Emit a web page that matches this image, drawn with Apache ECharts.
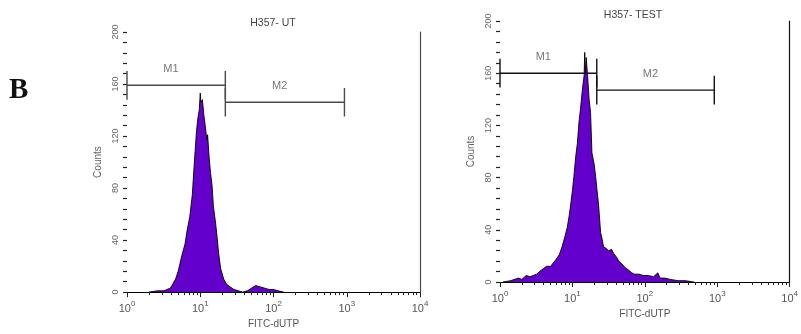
<!DOCTYPE html>
<html>
<head>
<meta charset="utf-8">
<script src="https://cdn.jsdelivr.net/npm/echarts@6/dist/echarts.min.js"></script>
<style>html,body{margin:0;padding:0;background:#fff}#c{width:801px;height:334px}</style>
</head>
<body>
<div id="c"></div>
<script>
// ---- data ----
var panelTitles = ['H357- UT', 'H357- TEST'];
var xTickValues = [1, 10, 100, 1000, 10000];
var yTickValues = [0, 40, 80, 120, 160, 200];
var xAxisTitle = 'FITC-dUTP';
var yAxisTitle = 'Counts';

// FITC-dUTP intensity (log channel) and counts — H357-UT
var utIntensity = [2.0, 2.6, 3.2, 3.5, 3.9, 4.2, 4.6, 5.0, 5.6, 6.2, 6.6, 7.2, 7.8, 8.1, 8.5, 8.9, 9.3, 9.7, 10.0, 10.2, 10.7, 11.2, 11.7, 12.3, 12.6, 13.2, 13.8, 14.5, 15.1, 16.2, 17.0, 17.8, 19.0, 20.9, 22.9, 25.7, 28.8, 33, 38, 44, 50, 57, 66, 76, 87, 100, 115, 138];
var utCounts    = [0,   1,   1,   2,   3,   6,   10,  16,  28,  37,  47,  58,  75,  90,  108, 124, 134, 140, 153,  146,  148,  136,  128,  117,  121,  104,  92,   82,   66,   53,   42,   30,   18,   10,   6,    4,    2,    1,  0,  1,  3,  5,  4,  3,  2,  2,   1,   0];

// H357-TEST
var testIntensity = [1.1, 1.4, 1.8, 2.0, 2.3, 2.6, 3.2, 3.7, 4.4, 5.0, 5.9, 6.6, 7.2, 7.9, 8.5, 9.1, 9.5, 10.0, 10.5, 11.1, 11.7, 12.3, 12.9, 13.7, 14.5, 14.8, 15.1, 15.5, 16.2, 17.0, 17.8, 18.6, 20.0, 20.9, 21.9, 22.9, 24.5, 25.7, 26.9, 28.8, 31.6, 34.7, 37, 40.7, 43.7, 47.9, 53.7, 60, 66, 72, 83, 95, 112, 132, 151, 162, 186, 224, 288, 363, 479];
var testCounts    = [0,   1,   3,   2,   5,   4,   6,   9,   12,  12,  17,  21,  27,  35,  42,  52,  60,  70,   81,   96,   106,  122,  132,  147,  158,  176,  160,  172,  158,  140,  130,  99,   90,   81,   70,   60,   38,   33,   27,   26,   24,   25,   22, 19,   16,   14,   11,   9,  7,  6,  6,  5,  5,   4,   7,   3,   3,   2,   1,   1,   0];

// Region markers: [start, end, level]
var utMarkers   = { M1: [1, 22, 159], M2: [22, 930, 146] };
var testMarkers = { M1: [1, 21.7, 160], M2: [21.7, 910, 147] };

// ---- chart ----
var chart = echarts.init(document.getElementById('c'), null, { renderer: 'canvas' });
var FONT = 'Liberation Sans, Arial, sans-serif';
var minorLog = [];
for (var n = 0; n < 4; n++) for (var k = 2; k <= 9; k++) minorLog.push(n + Math.log10(k));

var grids = [
  { left: 127, top: 32, width: 293, height: 261 },
  { left: 500, top: 21, width: 293, height: 261 }
];
var lineColors = ['#4a4a4a', '#111'];

var xAxes = [], yAxes = [], series = [];
[0, 1].forEach(function (g) {
  xAxes.push({
    gridIndex: g, type: 'log', logBase: 10, min: 1, max: 10000,
    axisLine: { lineStyle: { color: '#000', width: 1.2 } },
    axisTick: { length: 5, lineStyle: { color: '#222' } },
    splitLine: { show: false },
    axisLabel: {
      margin: 8, color: '#555', fontFamily: FONT,
      formatter: function (v) {
        return '{b|10}{s|' + Math.round(Math.log10(v)) + '}';
      },
      rich: {
        b: { fontSize: 11, fontFamily: FONT, color: '#555', verticalAlign: 'bottom', lineHeight: 14 },
        s: { fontSize: 8, fontFamily: FONT, color: '#555', verticalAlign: 'top', lineHeight: 14, padding: [0, 0, 6, 0] }
      }
    },
    name: xAxisTitle, nameLocation: 'middle', nameGap: 25,
    nameTextStyle: { fontSize: 10, color: '#555', fontFamily: FONT }
  });
  xAxes.push({
    gridIndex: g, type: 'value', min: 0, max: 4, position: 'bottom',
    axisLine: { show: false }, splitLine: { show: false },
    axisLabel: { show: false },
    axisTick: { show: true, length: 3, customValues: minorLog, lineStyle: { color: '#222' } }
  });
  yAxes.push({
    gridIndex: g, type: 'value', min: 0, max: 200, interval: 40,
    axisLine: { show: false }, splitLine: { show: false },
    axisTick: { show: true, length: 4, lineStyle: { color: '#222', width: 1.2 } },
    minorTick: { show: true, splitNumber: 5, length: 4, lineStyle: { color: '#222', width: 1.2 } },
    axisLabel: { rotate: 90, margin: 7, fontSize: 9, color: '#666', fontFamily: FONT },
    name: yAxisTitle, nameLocation: 'middle', nameGap: 24, nameRotate: 90,
    nameTextStyle: { fontSize: 10, color: '#666', fontFamily: FONT }
  });
  yAxes.push({
    gridIndex: g, type: 'value', min: 0, max: 200, position: 'right',
    axisLine: { show: true, lineStyle: { color: lineColors[g], width: 1.2 } },
    axisTick: { show: false }, axisLabel: { show: false }, splitLine: { show: false }
  });
});

function histSeries(g, xs, ys) {
  var data = xs.map(function (x, i) { return [x, ys[i]]; });
  return {
    type: 'line', xAxisIndex: g * 2, yAxisIndex: g * 2, data: data,
    showSymbol: false, symbol: 'none', smooth: false,
    lineStyle: { color: '#000', width: 0.9 },
    areaStyle: { color: '#6400cc', opacity: 1 },
    z: 3, animation: false
  };
}
series.push(histSeries(0, utIntensity, utCounts));
series.push(histSeries(1, testIntensity, testCounts));

function seg(g, a, b, color) {
  return {
    type: 'line', xAxisIndex: g * 2, yAxisIndex: g * 2, data: [a, b],
    showSymbol: false, symbol: 'none', lineStyle: { color: color, width: 1.4 },
    z: 4, animation: false, silent: true
  };
}
function markerSeries(g, markers) {
  var c = lineColors[g];
  var d = 11;
  Object.keys(markers).forEach(function (name) {
    var m = markers[name];
    series.push(seg(g, [m[0], m[2]], [m[1], m[2]], c));
    series.push(seg(g, [m[0], m[2] - d], [m[0], m[2] + d], c));
    series.push(seg(g, [m[1], m[2] - d], [m[1], m[2] + d], c));
    series.push({
      type: 'scatter', xAxisIndex: g * 2, yAxisIndex: g * 2,
      data: [[Math.sqrt(m[0] * m[1]) * 0.85, m[2]]], symbolSize: 1,
      itemStyle: { color: 'rgba(0,0,0,0)' },
      label: { show: true, position: 'top', distance: 10, formatter: name,
               fontSize: 11, color: '#555', fontFamily: FONT },
      z: 5, animation: false, silent: true
    });
  });
}
markerSeries(0, utMarkers);
markerSeries(1, testMarkers);

chart.setOption({
  animation: false,
  backgroundColor: '#fff',
  grid: grids,
  xAxis: xAxes,
  yAxis: yAxes,
  series: series,
  graphic: [
    { type: 'text', x: 273, y: 23, style: { text: panelTitles[0], fontSize: 10.5, fill: '#444', fontFamily: FONT, textAlign: 'center', textVerticalAlign: 'middle' } },
    { type: 'text', x: 633, y: 15, style: { text: panelTitles[1], fontSize: 10.5, fill: '#444', fontFamily: FONT, textAlign: 'center', textVerticalAlign: 'middle' } },
    { type: 'text', x: 9, y: 91, style: { text: 'B', fontSize: 29, fontWeight: 'bold', fill: '#111', fontFamily: 'Liberation Serif, Times New Roman, serif', textAlign: 'left', textVerticalAlign: 'middle' } }
  ]
});
</script>
</body>
</html>
